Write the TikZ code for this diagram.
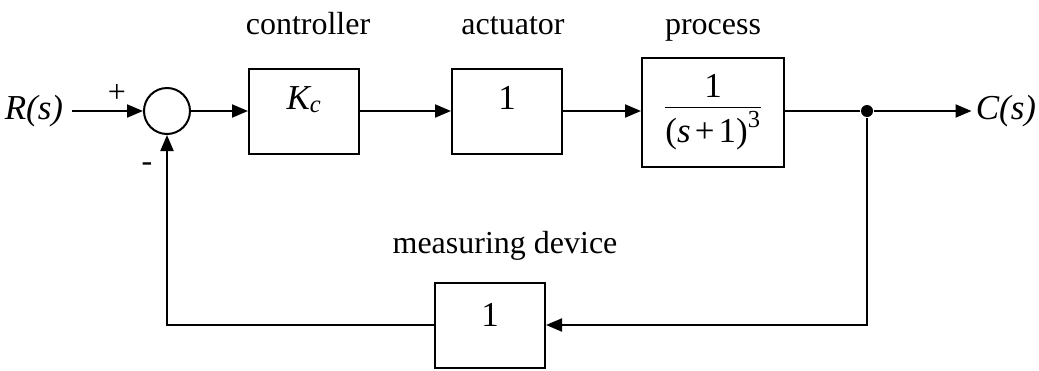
\documentclass[tikz,border=0pt]{standalone}
\usepackage{fontspec}
\usepackage{amsmath}
\setmainfont{Liberation Serif}
\usetikzlibrary{arrows.meta}

\newcommand{\uptext}[1]{\raisebox{2pt}[0pt][0pt]{#1}}

\begin{document}
\begin{tikzpicture}[x=1pt, y=-1pt, >={Triangle[length=16pt,width=13pt]},
    line width=2pt,
    font=\fontsize{32}{38}\selectfont,
    block/.style={draw, minimum width=110pt, minimum height=85pt, inner sep=0pt,
        font=\fontsize{35}{40}\selectfont},
    sumnode/.style={draw, circle, minimum size=46pt, inner sep=0pt},
    joint/.style={circle, fill, minimum size=12pt, inner sep=0pt},
    signal/.style={font=\fontsize{35}{40}\selectfont\itshape},
    lbl/.style={anchor=base}]
    \useasboundingbox (0,0) rectangle (1039,370);

    % forward path
    \node[signal] (rin) at (34,111) {R(s)};
    \node[sumnode] (sum) at (167,111) {};
    \node[block] (ctrl) at (304,111) {\uptext{\textit{K\textsubscript{c}}}};
    \node[block] (act) at (507,111) {\uptext{1}};
    \node[block, minimum width=142pt, minimum height=109pt] (proc) at (713,112)
        {$\dfrac{\text{1}}{\text{(}\textit{s}\,\text{+}\,\text{1)}^{\text{3}}}$};
    \node[joint] (jn) at (867,111) {};
    \node[signal] (cout) at (1006,111) {C(s)};

    % feedback path
    \node[block] (meas) at (490,325) {\raisebox{-1pt}[0pt][0pt]{1}};

    \node[lbl] (lctrl) at (308,34) {controller};
    \node[lbl] (lact) at (513,34) {actuator};
    \node[lbl] (lproc) at (713,34) {process};
    \node[lbl] (lmeas) at (505,253) {measuring device};
    \node (plus) at (117,93) {+};
    \node (minus) at (147,167) {-};

    \draw[->, shorten <=5pt] (rin) -- (sum);
    \draw[->] (sum) -- (ctrl);
    \draw[->] (ctrl) -- (act);
    \draw[->] (act) -- (proc.west |- act);
    \draw (proc.east |- jn) -- (jn);
    \draw[->] (jn) -- (cout);
    \draw[->] (jn) |- (meas);
    \draw[->] (meas) -| (sum);
\end{tikzpicture}
\end{document}
